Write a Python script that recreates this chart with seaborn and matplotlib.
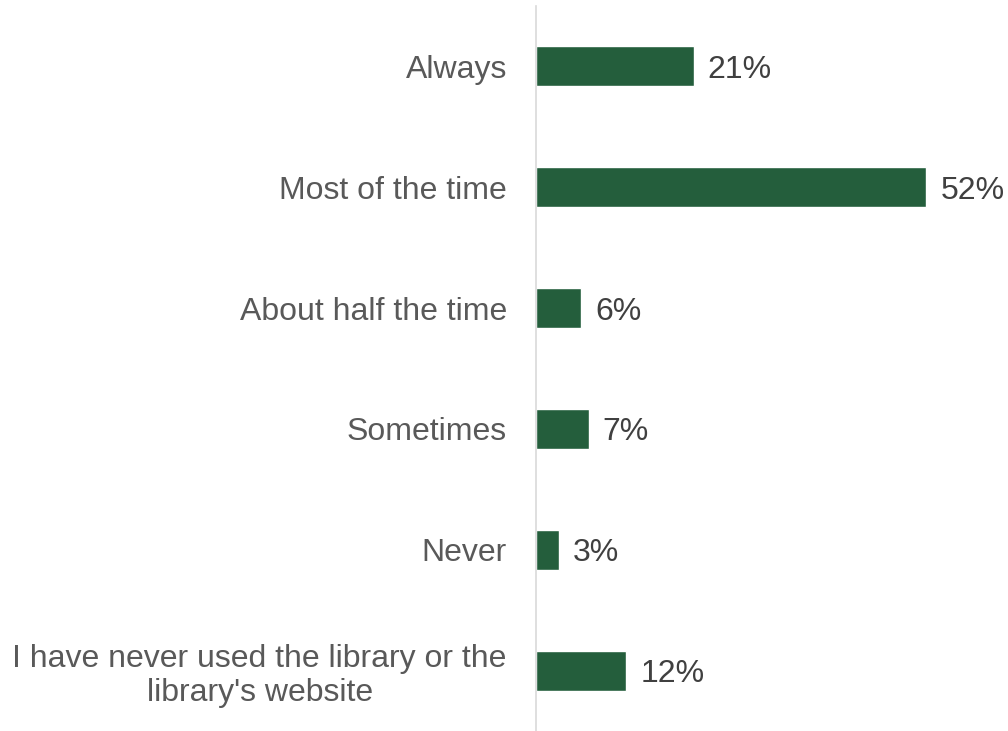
import matplotlib
matplotlib.use("Agg")
import matplotlib.pyplot as plt
import seaborn as sns
import pandas as pd

# survey answers, top to bottom
categories = [
    "Always",
    "Most of the time",
    "About half the time",
    "Sometimes",
    "Never",
    "I have never used the library or the\nlibrary's website",
]
percentages = [21, 52, 6, 7, 3, 12]

BAR_COLOR = "#245e3c"
LABEL_COLOR = "#595959"
VALUE_COLOR = "#404040"

sns.set_theme(style="white")
plt.rcParams["font.family"] = ["Liberation Sans", "DejaVu Sans"]

df = pd.DataFrame({"answer": categories, "pct": percentages})

fig = plt.figure(figsize=(10.08, 7.31), dpi=100)
ax = fig.add_axes([536 / 1008, 0.0, 1 - 536 / 1008, 1 - 6 / 731])

sns.barplot(data=df, x="pct", y="answer", color=BAR_COLOR, width=0.33,
            saturation=1, ax=ax)

for i, v in enumerate(percentages):
    ax.text(v + 1.9, i, f"{v}%", va="center_baseline", ha="left",
            fontsize=23, color=VALUE_COLOR)

ax.set_xlim(0, 62.9)
ax.set_xlabel("")
ax.set_ylabel("")
ax.set_xticks([])
ax.tick_params(axis="y", length=0, pad=21, labelsize=23, labelcolor=LABEL_COLOR)
for lbl in ax.get_yticklabels():
    lbl.set_multialignment("center")
    lbl.set_linespacing(1.15)

for side in ["top", "right", "bottom"]:
    ax.spines[side].set_visible(False)
ax.spines["left"].set_color("#d9d9d9")
ax.spines["left"].set_linewidth(1.2)

fig.savefig("out.png", dpi=100)
